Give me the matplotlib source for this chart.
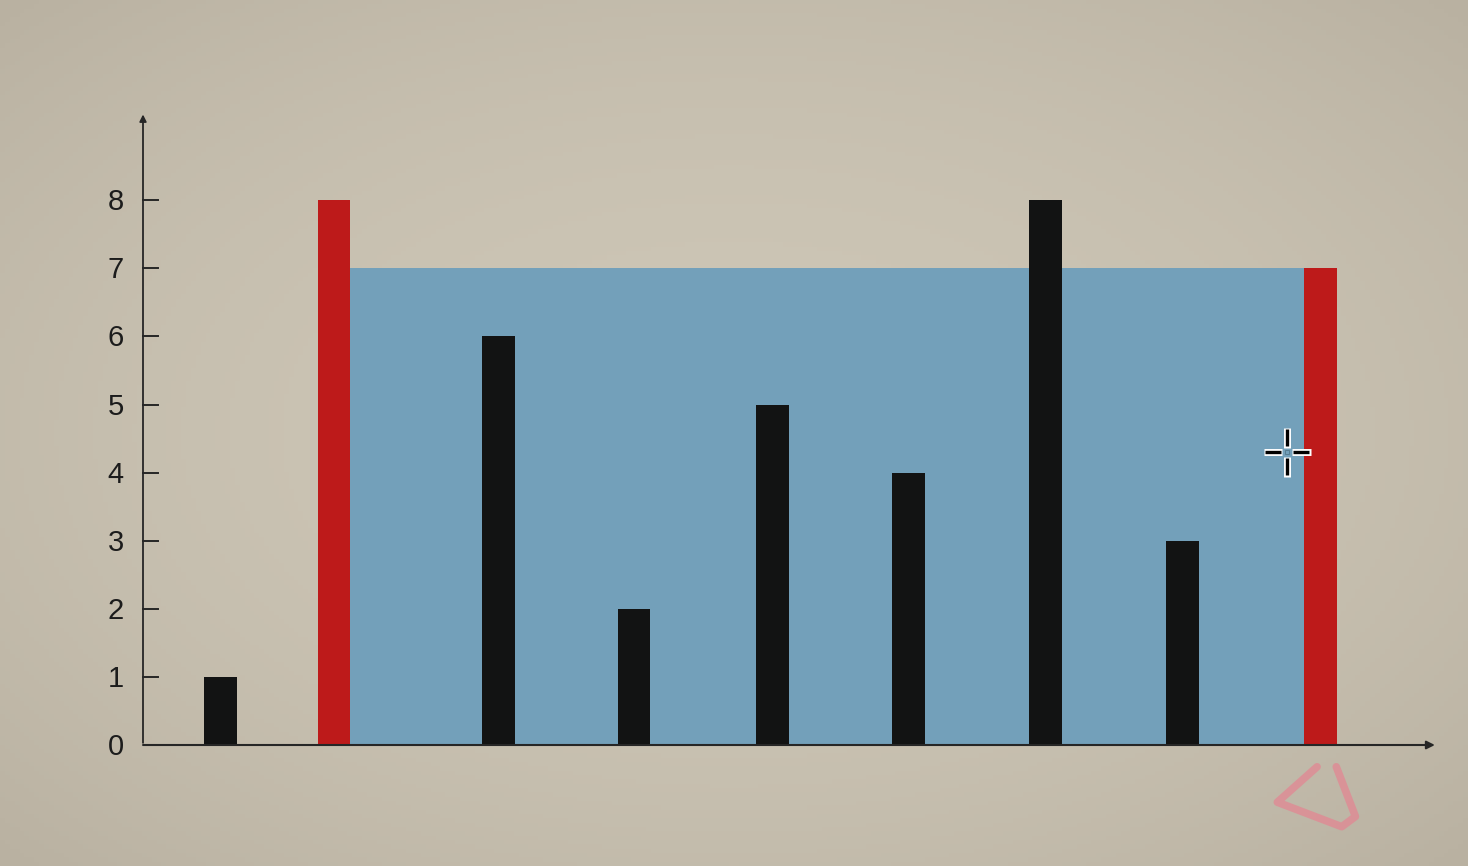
import matplotlib

matplotlib.use("Agg")
import matplotlib.pyplot as plt
import numpy as np
from matplotlib.patches import Rectangle

# bar heights and where they sit along the axis (units of one bar slot)
heights = [1, 8, 6, 2, 5, 4, 8, 3, 7]
positions = [0.565, 1.394, 2.595, 3.584, 4.595, 5.588, 6.588, 7.588, 8.595]
chosen = [1, 8]  # the two walls of the container
water_level = 7
y_ticks = [0, 1, 2, 3, 4, 5, 6, 7, 8]

BAR_W = 0.236
BG = "#c6bfb0"
RED = "#bd1a1a"
BLUE = "#73a0ba"
BLACK = "#121313"
AXIS = "#262626"

XU, YU = 137.0, 68.1  # pixels per data unit

fig = plt.figure(figsize=(14.68, 8.66), dpi=100)
ax = fig.add_axes([0, 0, 1, 1])
ax.set_xlim(-143 / XU, (1468 - 143) / XU)
ax.set_ylim(-121 / YU, (866 - 121) / YU)
ax.axis("off")

# soft vignette background
gx, gy = np.meshgrid(np.linspace(-1, 1, 300), np.linspace(-1, 1, 200))
glow = 1 - 0.5 * (gx**2 + gy**2)
ax.imshow(
    glow,
    extent=(*ax.get_xlim(), *ax.get_ylim()),
    cmap=matplotlib.colors.LinearSegmentedColormap.from_list("bg", ["#b9b1a1", "#cdc6b6"]),
    aspect="auto",
    zorder=0,
)

# water between the two chosen walls
left = positions[chosen[0]] + BAR_W / 2
right = positions[chosen[1]] - BAR_W / 2
ax.add_patch(Rectangle((left, 0), right - left, water_level, color=BLUE, lw=0, zorder=1))

for i, (x, h) in enumerate(zip(positions, heights, strict=True)):
    color = RED if i in chosen else BLACK
    ax.bar(x, h, width=BAR_W, color=color, edgecolor="none", zorder=2)

# axes with arrows
ax.annotate(
    "", xy=(9.45, 0), xytext=(-0.02, 0),
    arrowprops=dict(arrowstyle="-|>", color=AXIS, lw=1.5, mutation_scale=12), zorder=3,
)
ax.annotate(
    "", xy=(0, 9.3), xytext=(0, -0.01),
    arrowprops=dict(arrowstyle="-|>", color=AXIS, lw=1.3, mutation_scale=10), zorder=3,
)
for t in y_ticks:
    if t > 0:
        ax.plot([0, 0.11], [t, t], color=AXIS, lw=1.4, zorder=3)
    ax.text(-0.14, t - 0.03, str(t), ha="right", va="center", fontsize=21,
            color="#1c1c1c", family="Liberation Sans", zorder=3)

# hand-drawn pink triangle under the right wall (open at the top)
tri_x = [8.57, 8.28, 8.75, 8.85, 8.71]
tri_y = [-0.32, -0.84, -1.20, -1.05, -0.32]
ax.plot(tri_x, tri_y, color="#e08a94", lw=5.5, alpha=0.8,
        solid_capstyle="round", solid_joinstyle="round", zorder=3)

# mouse crosshair
cx, cy = (1287 - 143) / XU, (745 - 452) / YU
gap_x, arm_x, pad_x = 6 / XU, 16 / XU, 1.5 / XU
gap_y, arm_y, pad_y = 6 / YU, 17 / YU, 1.5 / YU
arms = [
    ((cx - gap_x - arm_x, cx - gap_x), (cy, cy), (-pad_x, pad_x), (0, 0)),
    ((cx + gap_x, cx + gap_x + arm_x), (cy, cy), (-pad_x, pad_x), (0, 0)),
    ((cx, cx), (cy - gap_y - arm_y, cy - gap_y), (0, 0), (-pad_y, pad_y)),
    ((cx, cx), (cy + gap_y, cy + gap_y + arm_y), (0, 0), (-pad_y, pad_y)),
]
for xs, ys, px, py in arms:
    ax.plot([xs[0] + px[0], xs[1] + px[1]], [ys[0] + py[0], ys[1] + py[1]],
            color="white", lw=5, solid_capstyle="butt", zorder=4)
    ax.plot(xs, ys, color="black", lw=2.4, solid_capstyle="butt", zorder=5)
ax.plot(cx, cy, "s", ms=2.5, mfc=BLUE, mec="#52788c", mew=0.6, zorder=5)

fig.savefig("out.png", dpi=100, facecolor=BG)
